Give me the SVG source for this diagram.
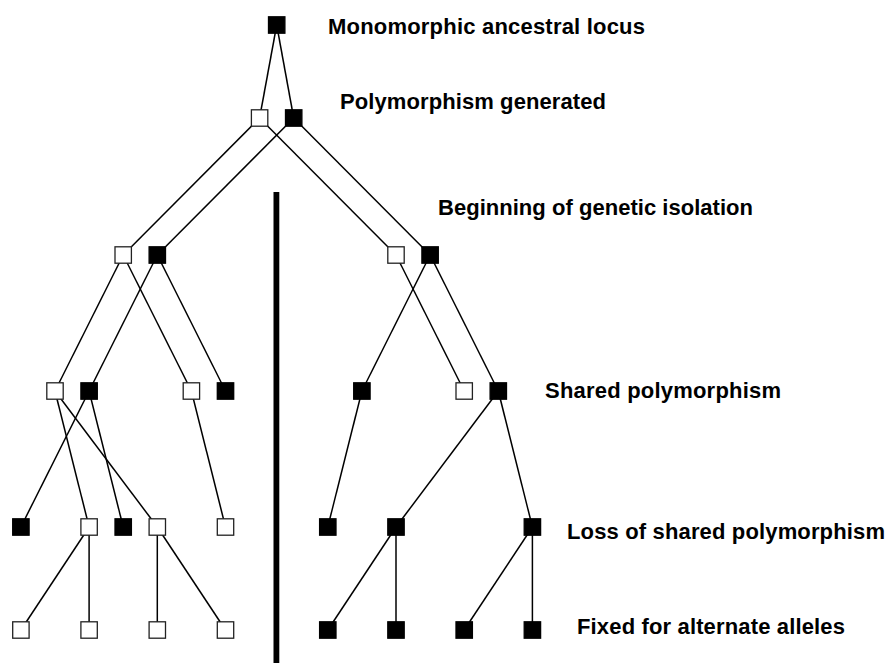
<svg xmlns="http://www.w3.org/2000/svg" width="888" height="663" viewBox="0 0 888 663">
<style>
.w{fill:#fff;stroke:#222;stroke-width:1.3}
.b{fill:#000;stroke:#000;stroke-width:1.3}
.e{stroke:#000;stroke-width:1.5;fill:none}
.t{font-family:"Liberation Sans",Arial,Helvetica,sans-serif;font-weight:bold;font-size:22px;fill:#000}
</style>
<rect width="888" height="663" fill="#fff"/>
<g id="connectors" class="e">
<line x1="276.7" y1="25" x2="259.6" y2="118"/>
<line x1="276.7" y1="25" x2="293.7" y2="118"/>
<line x1="259.6" y1="118" x2="123.2" y2="255"/>
<line x1="259.6" y1="118" x2="396" y2="255"/>
<line x1="293.7" y1="118" x2="157.3" y2="255"/>
<line x1="293.7" y1="118" x2="430.1" y2="255"/>
<line x1="123.2" y1="255" x2="55" y2="391"/>
<line x1="123.2" y1="255" x2="191.4" y2="391"/>
<line x1="157.3" y1="255" x2="89.1" y2="391"/>
<line x1="157.3" y1="255" x2="225.5" y2="391"/>
<line x1="396" y1="255" x2="464.2" y2="391"/>
<line x1="430.1" y1="255" x2="361.9" y2="391"/>
<line x1="430.1" y1="255" x2="498.3" y2="391"/>
<line x1="55" y1="391" x2="89.1" y2="527"/>
<line x1="55" y1="391" x2="157.3" y2="527"/>
<line x1="89.1" y1="391" x2="20.9" y2="527"/>
<line x1="89.1" y1="391" x2="123.2" y2="527"/>
<line x1="191.4" y1="391" x2="225.5" y2="527"/>
<line x1="361.9" y1="391" x2="327.8" y2="527"/>
<line x1="498.3" y1="391" x2="396" y2="527"/>
<line x1="498.3" y1="391" x2="532.4" y2="527"/>
<line x1="89.1" y1="527" x2="20.9" y2="630"/>
<line x1="89.1" y1="527" x2="89.1" y2="630"/>
<line x1="157.3" y1="527" x2="157.3" y2="630"/>
<line x1="157.3" y1="527" x2="225.5" y2="630"/>
<line x1="396" y1="527" x2="327.8" y2="630"/>
<line x1="396" y1="527" x2="396" y2="630"/>
<line x1="532.4" y1="527" x2="464.2" y2="630"/>
<line x1="532.4" y1="527" x2="532.4" y2="630"/>
</g>
<g id="isolation-bar"><rect x="273.5" y="192" width="5.8" height="471" fill="#000"/></g>
<g id="n0"><rect class="b" x="268.5" y="16.8" width="16.4" height="16.4"/></g>
<g id="n1"><rect class="w" x="251.4" y="109.8" width="16.4" height="16.4"/></g>
<g id="n2"><rect class="b" x="285.5" y="109.8" width="16.4" height="16.4"/></g>
<g id="n3"><rect class="w" x="115" y="246.8" width="16.4" height="16.4"/></g>
<g id="n4"><rect class="b" x="149.1" y="246.8" width="16.4" height="16.4"/></g>
<g id="n5"><rect class="w" x="387.8" y="246.8" width="16.4" height="16.4"/></g>
<g id="n6"><rect class="b" x="421.9" y="246.8" width="16.4" height="16.4"/></g>
<g id="n7"><rect class="w" x="46.8" y="382.8" width="16.4" height="16.4"/></g>
<g id="n8"><rect class="b" x="80.9" y="382.8" width="16.4" height="16.4"/></g>
<g id="n9"><rect class="w" x="183.2" y="382.8" width="16.4" height="16.4"/></g>
<g id="n10"><rect class="b" x="217.3" y="382.8" width="16.4" height="16.4"/></g>
<g id="n11"><rect class="b" x="353.7" y="382.8" width="16.4" height="16.4"/></g>
<g id="n12"><rect class="w" x="456" y="382.8" width="16.4" height="16.4"/></g>
<g id="n13"><rect class="b" x="490.1" y="382.8" width="16.4" height="16.4"/></g>
<g id="n14"><rect class="b" x="12.7" y="518.8" width="16.4" height="16.4"/></g>
<g id="n15"><rect class="w" x="80.9" y="518.8" width="16.4" height="16.4"/></g>
<g id="n16"><rect class="b" x="115" y="518.8" width="16.4" height="16.4"/></g>
<g id="n17"><rect class="w" x="149.1" y="518.8" width="16.4" height="16.4"/></g>
<g id="n18"><rect class="w" x="217.3" y="518.8" width="16.4" height="16.4"/></g>
<g id="n19"><rect class="b" x="319.6" y="518.8" width="16.4" height="16.4"/></g>
<g id="n20"><rect class="b" x="387.8" y="518.8" width="16.4" height="16.4"/></g>
<g id="n21"><rect class="b" x="524.2" y="518.8" width="16.4" height="16.4"/></g>
<g id="n22"><rect class="w" x="12.7" y="621.8" width="16.4" height="16.4"/></g>
<g id="n23"><rect class="w" x="80.9" y="621.8" width="16.4" height="16.4"/></g>
<g id="n24"><rect class="w" x="149.1" y="621.8" width="16.4" height="16.4"/></g>
<g id="n25"><rect class="w" x="217.3" y="621.8" width="16.4" height="16.4"/></g>
<g id="n26"><rect class="b" x="319.6" y="621.8" width="16.4" height="16.4"/></g>
<g id="n27"><rect class="b" x="387.8" y="621.8" width="16.4" height="16.4"/></g>
<g id="n28"><rect class="b" x="456" y="621.8" width="16.4" height="16.4"/></g>
<g id="n29"><rect class="b" x="524.2" y="621.8" width="16.4" height="16.4"/></g>
<g id="labels">
<text class="t" x="328" y="34" textLength="317">Monomorphic ancestral locus</text>
<text class="t" x="340" y="109" textLength="266">Polymorphism generated</text>
<text class="t" x="438" y="215" textLength="315">Beginning of genetic isolation</text>
<text class="t" x="545" y="398" textLength="236">Shared polymorphism</text>
<text class="t" x="567" y="539" textLength="318">Loss of shared polymorphism</text>
<text class="t" x="577" y="634" textLength="268">Fixed for alternate alleles</text>
</g>
</svg>
